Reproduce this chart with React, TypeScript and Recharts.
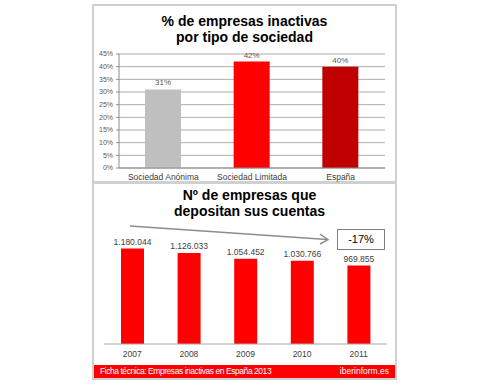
import React from 'react';
import { BarChart, Bar, XAxis, YAxis, CartesianGrid, LabelList, Cell } from 'recharts';

const tipoCategories = ['Sociedad Anónima', 'Sociedad Limitada', 'España'];
const tipoValues = [31, 42, 40];
const tipoColors = ['#BFBFBF', '#FF0000', '#C00000'];
const pctTicks = [0, 5, 10, 15, 20, 25, 30, 35, 40, 45];
const categoryBoundaries = [0, 1, 2, 3];

const years = ['2007', '2008', '2009', '2010', '2011'];
const depositValues = [1180044, 1126033, 1054452, 1030766, 969855];

const topData = tipoCategories.map((name, i) => ({ name, value: tipoValues[i], color: tipoColors[i] }));
const bottomData = years.map((year, i) => ({ year, value: depositValues[i] }));

const FONT = 'Arial, "Liberation Sans", sans-serif';
const fmtThousands = (v: number) => String(v).replace(/\B(?=(\d{3})+(?!\d))/g, '.');

const makeLabel = (fmt: (v: number) => string, size: number, color: string) => (props: any) => {
  const { x, y, width, value } = props;
  return (
    <text x={Number(x) + Number(width) / 2} y={Number(y) - 4} textAnchor="middle" fontSize={size} fill={color} fontFamily={FONT}>
      {fmt(Number(value))}
    </text>
  );
};

export default function App() {
  return (
    <div style={{ position: 'absolute', left: 0, top: 0, width: 490, height: 387, background: '#fff', fontFamily: FONT }}>
      {/* panel frames */}
      <div style={{ position: 'absolute', left: 92, top: 4, width: 301, height: 175, border: '2px solid #D0D0D0' }} />
      <div style={{ position: 'absolute', left: 92, top: 182, width: 301, height: 194, border: '2px solid #D0D0D0' }} />

      {/* top title */}
      <div style={{ position: 'absolute', left: 93, top: 13, width: 303, textAlign: 'center', fontWeight: 'bold', fontSize: 14, lineHeight: '16px', color: '#000' }}>
        % de empresas inactivas<br />por tipo de sociedad
      </div>

      <div style={{ position: 'absolute', left: 93, top: 5 }}>
        <BarChart width={303} height={177} data={topData} margin={{ top: 49, right: 11, bottom: 0, left: 0 }}>
          <CartesianGrid vertical={false} stroke="#ABABAB" />
          <XAxis dataKey="name" height={14} tickLine={false} tickSize={0} tickMargin={6} axisLine={{ stroke: '#8C8C8C' }}
            tick={{ fontSize: 8.5, fill: '#404040', fontFamily: FONT }} interval={0} />
          <XAxis xAxisId="bounds" type="number" domain={[0, 3]} ticks={categoryBoundaries} height={0} tick={false}
            tickSize={4} axisLine={false} tickLine={{ stroke: '#8C8C8C' }} interval={0} />
          <YAxis width={26} domain={[0, 45]} ticks={pctTicks} tickFormatter={(v: number) => `${v}%`} tickSize={3} tickMargin={3}
            axisLine={{ stroke: '#8C8C8C' }} tickLine={{ stroke: '#8C8C8C' }}
            tick={{ fontSize: 7, fill: '#595959', fontFamily: FONT }} interval={0} />
          <Bar dataKey="value" barSize={36} isAnimationActive={false}>
            {topData.map((d) => (
              <Cell key={d.name} fill={d.color} />
            ))}
            <LabelList dataKey="value" content={makeLabel((v) => `${v}%`, 8, '#595959')} />
          </Bar>
        </BarChart>
      </div>

      {/* bottom title */}
      <div style={{ position: 'absolute', left: 98, top: 187, width: 303, textAlign: 'center', fontWeight: 'bold', fontSize: 14, lineHeight: '16px', color: '#000' }}>
        Nº de empresas que<br />depositan sus cuentas
      </div>

      <div style={{ position: 'absolute', left: 93, top: 183 }}>
        <BarChart width={303} height={196} data={bottomData} margin={{ top: 64, right: 9, bottom: 14, left: 11 }}>
          <XAxis dataKey="year" height={21} tickLine={false} tickSize={0} tickMargin={7} axisLine={{ stroke: '#A6A6A6' }}
            tick={{ fontSize: 8.5, fill: '#404040', fontFamily: FONT }} interval={0} />
          <YAxis hide domain={[0, 1200000]} />
          <Bar dataKey="value" barSize={23} fill="#FF0000" isAnimationActive={false}>
            <LabelList dataKey="value" content={makeLabel(fmtThousands, 8.5, '#404040')} />
          </Bar>
        </BarChart>
      </div>

      {/* trend arrow and box */}
      <svg style={{ position: 'absolute', left: 0, top: 0 }} width={490} height={387}>
        <line x1={130} y1={226} x2={327} y2={239.5} stroke="#8C8C8C" strokeWidth={1.5} />
        <polyline points="320,234 328,239.6 320,244" fill="none" stroke="#8C8C8C" strokeWidth={1.5} />
        <rect x={337.5} y={229.5} width={47} height={20} fill="#fff" stroke="#7F7F7F" strokeWidth={1} />
        <text x={361} y={243} textAnchor="middle" fontSize={11} fill="#000" fontFamily={FONT}>-17%</text>
      </svg>

      {/* footer */}
      <div style={{ position: 'absolute', left: 94, top: 365, width: 301, height: 13, background: '#FF0000', color: '#fff', fontSize: 8.5, lineHeight: '13px' }}>
        <span style={{ position: 'absolute', left: 6, letterSpacing: -0.45 }}>Ficha técnica: Empresas inactivas en España 2013</span>
        <span style={{ position: 'absolute', right: 6 }}>iberinform.es</span>
      </div>
    </div>
  );
}
